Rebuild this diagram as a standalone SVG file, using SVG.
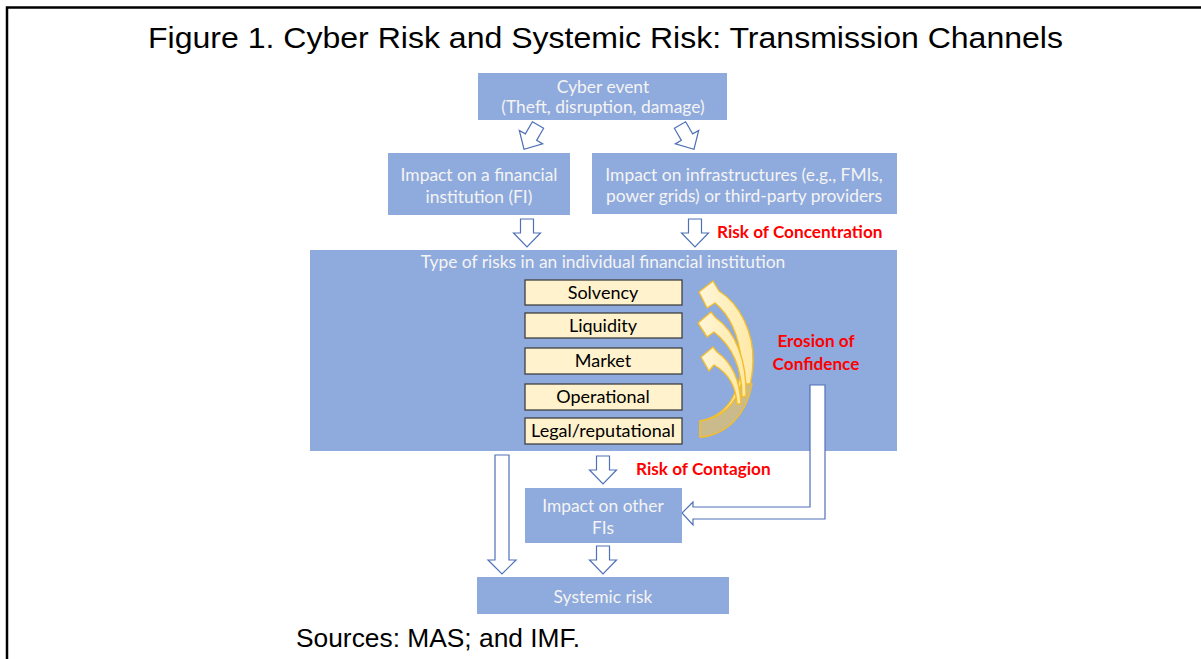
<svg xmlns="http://www.w3.org/2000/svg" width="1201" height="659" viewBox="0 0 1201 659">
<style>
.box{fill:#8FAADC;}
.bt{font-family:Lato,"Liberation Sans",sans-serif;font-size:17.4px;fill:#F4F4F4;text-anchor:middle;}
.yb{fill:#FFF2CC;stroke:#3F3F3F;stroke-width:1.3;}
.yt{font-family:Lato,"Liberation Sans",sans-serif;font-size:18px;fill:#000;text-anchor:middle;}
.red{font-family:Lato,"Liberation Sans",sans-serif;font-size:17.2px;font-weight:bold;fill:#FF0000;}
.harr{fill:#FFFFFF;stroke:#4F71B8;stroke-width:1.2;}
.yarr{fill:url(#yg);stroke:#F2BE2E;stroke-width:1.4;stroke-linejoin:round;}
</style>
<defs>
<linearGradient id="yg" x1="0" y1="0" x2="1" y2="0">
<stop offset="0" stop-color="#FFF6DA"/>
<stop offset="1" stop-color="#FFE9A6"/>
</linearGradient>
<path id="darr" d="M-6.5,0 H6.5 V14 H13.5 L0,28 L-13.5,14 H-6.5 Z"/>
</defs>
<rect width="1201" height="659" fill="#FFFFFF"/>
<g id="frame" fill="none" stroke="#000" stroke-width="2.5">
<path d="M7,659 V7.5 H1201"/>
</g>
<text id="title" x="148" y="48" font-family="Liberation Sans,Arial,sans-serif" font-size="29" textLength="915" lengthAdjust="spacingAndGlyphs" fill="#000">Figure 1. Cyber Risk and Systemic Risk: Transmission Channels</text>

<g id="connectors">
<use href="#darr" class="harr" transform="translate(538,125) rotate(30)"/>
<use href="#darr" class="harr" transform="translate(680,125) rotate(-30)"/>
<use href="#darr" class="harr" transform="translate(527,219)"/>
<use href="#darr" class="harr" transform="translate(695,219)"/>
<use href="#darr" class="harr" transform="translate(603,456)"/>
<use href="#darr" class="harr" transform="translate(603,546)"/>
<path class="harr" d="M495,455 H509 V560 H516 L502,574 L488,560 H495 Z"/>
</g>

<g id="cyber-event">
<rect class="box" x="478" y="73" width="249" height="47"/>
<text class="bt" x="603" y="93">Cyber event</text>
<text class="bt" x="603" y="113">(Theft, disruption, damage)</text>
</g>
<g id="impact-fi">
<rect class="box" x="388" y="153" width="182" height="62"/>
<text class="bt" x="479" y="181">Impact on a financial</text>
<text class="bt" x="479" y="203">institution (FI)</text>
</g>
<g id="impact-infra">
<rect class="box" x="592" y="153" width="305" height="61"/>
<text class="bt" x="744" y="181">Impact on infrastructures (e.g., FMIs,</text>
<text class="bt" x="744" y="202">power grids) or third-party providers</text>
</g>
<text id="risk-concentration" class="red" x="717" y="238">Risk of Concentration</text>

<g id="types-of-risk">
<rect class="box" x="310" y="250" width="587" height="201"/>
<text class="bt" x="603" y="268">Type of risks in an individual financial institution</text>
</g>
<g id="solvency">
<rect class="yb" x="525" y="280" width="157" height="25"/>
<text class="yt" x="603" y="299">Solvency</text>
</g>
<g id="liquidity">
<rect class="yb" x="525" y="313" width="157" height="25"/>
<text class="yt" x="603" y="332">Liquidity</text>
</g>
<g id="market">
<rect class="yb" x="525" y="348" width="157" height="26"/>
<text class="yt" x="603" y="367">Market</text>
</g>
<g id="operational">
<rect class="yb" x="525" y="384" width="157" height="26"/>
<text class="yt" x="603" y="403">Operational</text>
</g>
<g id="legal">
<rect class="yb" x="525" y="418" width="157" height="26"/>
<text class="yt" x="603" y="437">Legal/reputational</text>
</g>

<g id="erosion-arrows">
<path class="yarr" d="M699,292 L713,281 L719,291 C740,304 754,333 753,362 C752,400 730,436 700,437 L700,421 C728,416 742,390 741,360 C739,336 730,315 715,303 L707,308 Z"/>
<path d="M700,421 C722,418 736,404 741,384 L752,384 C747,414 727,435 700,437 Z" fill="#CBBB8C" stroke="#F2BE2E" stroke-width="1.4" stroke-linejoin="round"/>
<path class="yarr" d="M698,323 L711,312 L716,318 C735,331 747,360 746,396 L742,397 C742,368 732,346 714,332 L707,337 Z"/>
<path class="yarr" d="M701,357 L713,347 L717,352 C731,362 740,380 741,404 L737,404 C736,386 728,373 714,365 L709,371 Z"/>
</g>
<g id="erosion-label">
<text class="red" x="816" y="347" text-anchor="middle">Erosion of</text>
<text class="red" x="816" y="370" text-anchor="middle">Confidence</text>
</g>
<path id="erosion-connector" class="harr" d="M810,385 H825 V519 H693 V525 L682,513 L693,502 V507 H810 Z"/>

<text id="risk-contagion" class="red" x="636" y="475">Risk of Contagion</text>
<g id="impact-other">
<rect class="box" x="525" y="488" width="157" height="55"/>
<text class="bt" x="603" y="512">Impact on other</text>
<text class="bt" x="603" y="534">FIs</text>
</g>
<g id="systemic">
<rect class="box" x="477" y="577" width="252" height="37"/>
<text class="bt" x="603" y="603">Systemic risk</text>
</g>
<text id="sources" x="296" y="647" font-family="Liberation Sans,Arial,sans-serif" font-size="25" textLength="284" lengthAdjust="spacingAndGlyphs" fill="#000">Sources: MAS; and IMF.</text>
</svg>
